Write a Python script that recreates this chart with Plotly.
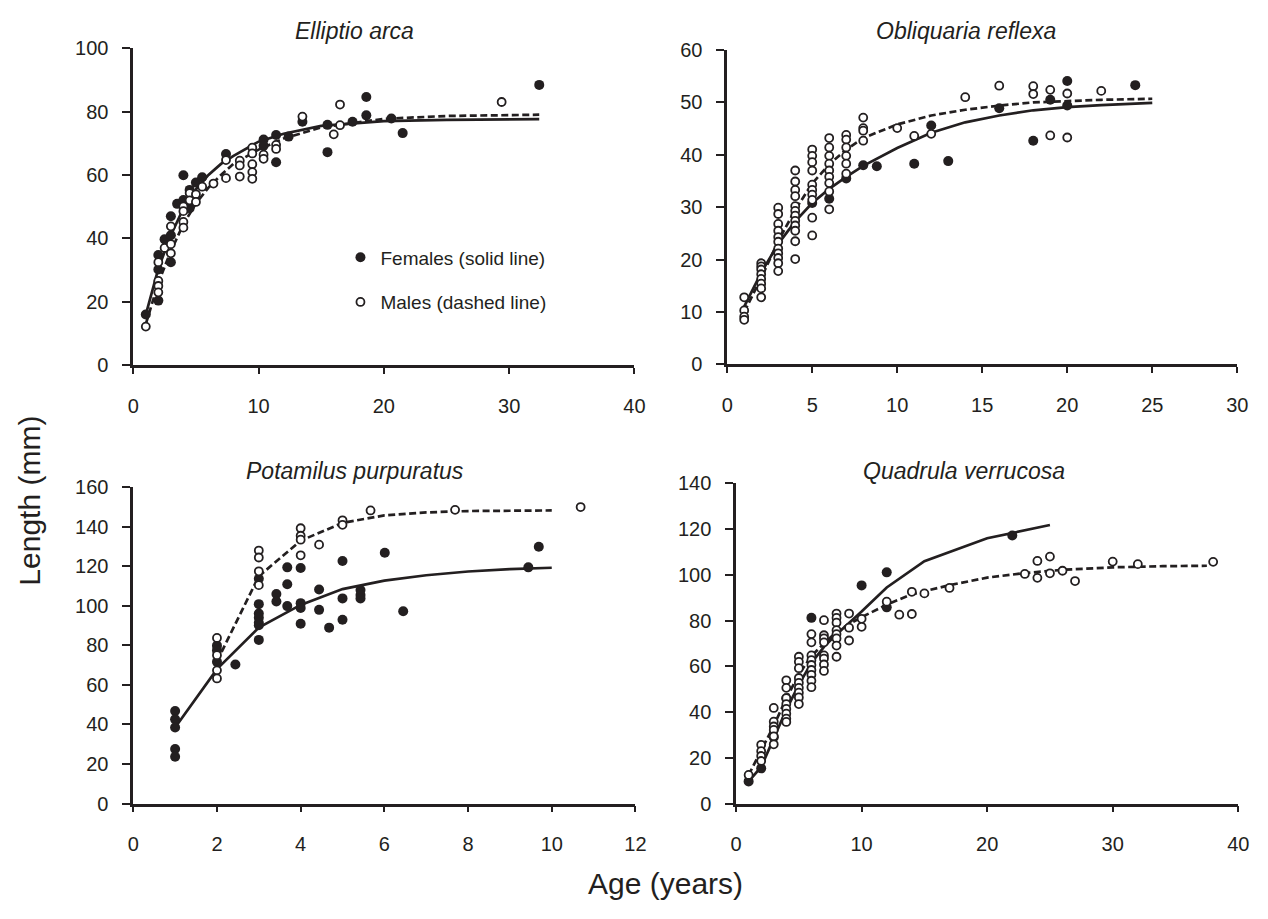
import plotly.graph_objects as go

W, H = 1268, 919
INK = "#231f20"
FONT = "Liberation Sans, Arial, Helvetica, sans-serif"

# ---------------- Elliptio arca ----------------
ea_f_age = [1, 2, 2, 2, 2.5, 3, 3, 3, 3.5, 4, 4, 4.5, 4.5, 5, 5.5, 7.4, 10.4, 10.4, 11.4, 11.4,
            12.4, 13.5, 15.5, 15.5, 17.5, 18.6, 18.6, 20.6, 21.5, 32.4]
ea_f_len = [16, 20.4, 30.2, 34.8, 39.7, 47, 32.5, 41, 50.9, 59.9, 52.1, 55.3, 49.5, 57.6, 59.3, 66.6,
            71.2, 69.2, 72.6, 64, 72.1, 76.8, 75.8, 67.2, 76.8, 84.6, 78.8, 77.8, 73.2, 88.4]
ea_m_age = [1, 2, 2, 2, 2, 2.5, 3, 3, 3, 4, 4, 4, 4, 4.5, 4.5, 5, 5, 5.5, 6.4, 7.4, 7.4, 8.5, 8.5, 8.5,
            9.5, 9.5, 9.5, 9.5, 9.5, 10.4, 10.4, 11.4, 11.4, 13.5, 16, 16.5, 16.5, 29.4]
ea_m_len = [12.2, 32.5, 26.6, 25, 23, 37, 43.8, 38.2, 35.3, 50.1, 48.6, 45.2, 43.4, 54.3, 52, 53.9, 51.5,
            56.3, 57.3, 64.7, 59, 64.5, 63, 59.5, 68.6, 66.8, 63.4, 60.9, 58.8, 66.4, 65.1, 69.5, 68.2,
            78.4, 72.8, 75.7, 82.2, 83]
ea_f_fit_age = [1, 2, 3, 4, 5, 6, 7, 8, 10, 12, 15, 20, 25, 32.4]
ea_f_fit_len = [16, 30.5, 41, 49.5, 55.5, 60, 63.5, 66, 70.5, 73, 75.5, 77, 77.4, 77.6]
ea_m_fit_age = [1, 2, 3, 4, 5, 6, 7, 8, 10, 12, 15, 20, 25, 32.4]
ea_m_fit_len = [13, 26, 36, 44.5, 51, 56, 60, 63.5, 68, 71.5, 75, 77.7, 78.6, 79]

# ---------------- Obliquaria reflexa ----------------
or_f_age = [5, 6, 7, 8, 8.8, 11, 12, 13, 16, 18, 19, 20, 20, 24]
or_f_len = [30.8, 31.6, 35.5, 38.0, 37.8, 38.3, 45.6, 38.8, 48.9, 42.7, 50.5, 54.1, 49.4, 53.3]
or_m_age = [1, 1, 1, 1,
            2, 2, 2, 2, 2, 2, 2, 2,
            3, 3, 3, 3, 3, 3, 3, 3, 3, 3, 3,
            4, 4, 4, 4, 4, 4, 4, 4, 4, 4, 4, 4,
            5, 5, 5, 5, 5, 5, 5, 5, 5, 5,
            6, 6, 6, 6, 6, 6, 6, 6, 6,
            7, 7, 7, 7, 7, 7,
            8, 8, 8, 8,
            10, 11, 12, 14, 16, 18, 18, 19, 19, 20, 20, 22]
or_m_len = [12.8, 10.3, 9.1, 8.5,
            19.3, 18.7, 18.1, 17.2, 16.3, 15.4, 14.5, 12.8,
            29.9, 28.7, 26.8, 25.5, 24.3, 23.4, 22.1, 21.2, 20.3, 19.3, 17.8,
            37.0, 34.9, 33.3, 32.1, 30.2, 29.3, 28.4, 27.4, 26.5, 25.5, 23.5, 20.1,
            41.0, 39.8, 38.6, 37.0, 34.3, 33.3, 32.4, 31.4, 28.0, 24.6,
            43.2, 41.4, 39.8, 38.3, 37.0, 35.8, 34.6, 33.0, 29.6,
            43.8, 42.9, 41.4, 39.8, 38.3, 36.4,
            47.1, 45.1, 44.6, 42.7,
            45.1, 43.6, 44.0, 51.0, 53.2, 53.1, 51.6, 52.4, 43.7, 51.7, 43.3, 52.2]
or_f_fit_age = [1, 2, 3, 4, 5, 6, 7, 8, 10, 12, 14, 16, 18, 20, 22, 25]
or_f_fit_len = [11, 17.5, 23, 27.3, 30.8, 33.5, 35.8, 37.9, 41.3, 44.2, 46.2, 47.5, 48.5, 49.1, 49.5, 49.9]
or_m_fit_age = [1, 2, 3, 4, 5, 6, 7, 8, 10, 12, 14, 16, 18, 20, 22, 25]
or_m_fit_len = [10, 16.5, 23.5, 29.5, 34.5, 38.2, 41, 43.2, 45.8, 47.5, 48.6, 49.4, 50, 50.3, 50.5, 50.7]

# ---------------- Potamilus purpuratus ----------------
pp_f_age = [1, 1, 1, 1, 1, 2, 2, 2, 2.44, 3, 3, 3, 3, 3, 3, 3, 3.42, 3.42, 3.68, 3.68, 3.68,
            4, 4, 4, 4, 4.44, 4.44, 4.68, 5, 5, 5, 5.43, 5.43, 5.43, 6.01, 6.45, 9.44, 9.69]
pp_f_len = [46.8, 42.6, 38.5, 27.6, 23.7, 79.9, 77.5, 71.7, 70.4, 113.7, 100.9, 96.2, 94, 91.5, 90.2,
            82.8, 106, 102.2, 119.5, 111, 99.9, 119.2, 101.4, 99, 91, 108.3, 98, 89, 122.7, 103.8, 93,
            108, 105.5, 103.8, 126.9, 97.3, 119.5, 129.9]
pp_m_age = [2, 2, 2, 2, 3, 3, 3, 3, 4, 4, 4, 4, 4.44, 5, 5, 5.67, 7.69, 10.69]
pp_m_len = [83.8, 75.1, 67.4, 63.3, 128, 124.5, 117.5, 110.5, 139.3, 135.5, 133.5, 125.6, 131,
            143.3, 141, 148.3, 148.6, 150]
pp_f_fit_age = [1, 2, 3, 4, 5, 6, 7, 8, 9, 10]
pp_f_fit_len = [38.5, 68, 89, 100.5, 108.5, 112.8, 115.5, 117.4, 118.6, 119.3]
pp_m_fit_age = [2, 3, 4, 5, 6, 7, 8, 9, 10]
pp_m_fit_len = [72, 115, 133, 142, 145.8, 147.3, 148, 148.2, 148.3]

# ---------------- Quadrula verrucosa ----------------
qv_f_age = [1, 2, 3, 4, 6, 10, 12, 12, 22]
qv_f_len = [9.7, 15.4, 29, 46, 81.2, 95.4, 101.1, 85.8, 117.2]
qv_m_age = [1,
            2, 2, 2, 2,
            3, 3, 3, 3, 3, 3,
            4, 4, 4, 4, 4, 4, 4, 4,
            5, 5, 5, 5, 5, 5, 5, 5, 5,
            6, 6, 6, 6, 6, 6, 6, 6, 6,
            7, 7, 7, 7, 7, 7, 7, 7,
            8, 8, 8, 8, 8, 8, 8, 8,
            9, 9, 9, 10, 10, 12, 13, 14, 14, 15, 17,
            23, 24, 24, 25, 25, 26, 27, 30, 32, 38]
qv_m_len = [12.5,
            25.7, 22.9, 20.8, 18.6,
            41.8, 35.8, 33.7, 32.2, 29.4, 25.9,
            53.9, 50.6, 46.1, 43.5, 41.4, 39.3, 37.1, 35.7,
            64.2, 62, 59.2, 54.9, 52.8, 50.6, 48.5, 46.4, 43.5,
            74.1, 70.5, 64.8, 62.7, 60.6, 58.4, 56.3, 53.7, 50.9,
            80.2, 73.6, 72.2, 70.5, 64.8, 63.4, 60.8, 58.0,
            83.1, 81.2, 79.1, 75.8, 74.1, 72.2, 69.1, 64.2,
            83.1, 76.9, 71.3, 80.8, 77.3, 88.3, 82.6, 92.6, 82.9, 91.9, 94.3,
            100.4, 106.1, 98.7, 108, 100.7, 101.8, 97.3, 105.8, 104.7, 105.7]
qv_f_fit_age = [1, 2, 3, 4, 5, 6, 7, 8, 9, 10, 12, 15, 20, 25]
qv_f_fit_len = [9.7, 16, 28.5, 41, 52, 61.5, 68.5, 74, 79, 84, 94.5, 106, 116, 121.8]
qv_m_fit_age = [1, 2, 3, 4, 5, 6, 7, 8, 9, 10, 12, 14, 17, 20, 23, 26, 30, 34, 37.5]
qv_m_fit_len = [12.5, 23, 34, 46, 56.5, 64.5, 70, 75, 78.5, 81.5, 87, 91.5, 95.5, 98.8, 100.8, 102.2,
                103.3, 103.8, 104]

species = ["Elliptio arca", "Obliquaria reflexa", "Potamilus purpuratus", "Quadrula verrucosa"]
legend_names = ["Females (solid line)", "Males (dashed line)"]
x_ranges = [[0, 40], [0, 30], [0, 12], [0, 40]]
x_dticks = [10, 5, 2, 10]
y_ranges = [[0, 100], [0, 60], [0, 160], [0, 140]]
y_dticks = [20, 10, 20, 20]

# layout geometry in pixels (left, right, bottom, top)
boxes = [(129, 637, 363, 38), (731, 1248, 362, 40), (129, 638, 812, 488), (740, 1249, 812, 484)]
title_pos = [(353, 20), (973, 20), (354, 471), (971, 471)]

data = [
    (ea_f_age, ea_f_len, ea_m_age, ea_m_len, ea_f_fit_age, ea_f_fit_len, ea_m_fit_age, ea_m_fit_len),
    (or_f_age, or_f_len, or_m_age, or_m_len, or_f_fit_age, or_f_fit_len, or_m_fit_age, or_m_fit_len),
    (pp_f_age, pp_f_len, pp_m_age, pp_m_len, pp_f_fit_age, pp_f_fit_len, pp_m_fit_age, pp_m_fit_len),
    (qv_f_age, qv_f_len, qv_m_age, qv_m_len, qv_f_fit_age, qv_f_fit_len, qv_m_fit_age, qv_m_fit_len),
]

fig = go.Figure()
layout = {}
annotations = []

for i, (fa, fl, ma, ml, ffa, ffl, mfa, mfl) in enumerate(data):
    n = i + 1
    xa = "x" if n == 1 else f"x{n}"
    ya = "y" if n == 1 else f"y{n}"
    fig.add_trace(go.Scatter(x=ffa, y=ffl, xaxis=xa, yaxis=ya, mode="lines",
                             line=dict(color=INK, width=2.7), showlegend=False, hoverinfo="skip"))
    fig.add_trace(go.Scatter(x=mfa, y=mfl, xaxis=xa, yaxis=ya, mode="lines",
                             line=dict(color=INK, width=2.7, dash="7px,3.5px"), showlegend=False,
                             hoverinfo="skip"))
    fig.add_trace(go.Scatter(x=fa, y=fl, xaxis=xa, yaxis=ya, mode="markers",
                             marker=dict(symbol="circle", size=10, color=INK, line=dict(width=0)),
                             name=legend_names[0], legendgroup="f", showlegend=(i == 0)))
    fig.add_trace(go.Scatter(x=ma, y=ml, xaxis=xa, yaxis=ya, mode="markers",
                             marker=dict(symbol="circle", size=8, color="white",
                                         line=dict(width=1.8, color=INK)),
                             name=legend_names[1], legendgroup="m", showlegend=(i == 0)))

    l, r, b, t = boxes[i]
    common = dict(showline=True, linecolor=INK, linewidth=2.6, ticks="outside", tickcolor=INK,
                  tickwidth=2, showgrid=False, zeroline=False, fixedrange=True,
                  tickfont=dict(family=FONT, size=20, color=INK))
    layout["xaxis" if n == 1 else f"xaxis{n}"] = dict(
        common, domain=[l / W, r / W], range=x_ranges[i], dtick=x_dticks[i], tick0=0,
        anchor=ya, ticklen=6, ticklabelstandoff=15)
    layout["yaxis" if n == 1 else f"yaxis{n}"] = dict(
        common, domain=[1 - b / H, 1 - t / H], range=y_ranges[i], dtick=y_dticks[i], tick0=0,
        anchor=xa, ticklen=8, ticklabelstandoff=10)
    tx, ty = title_pos[i]
    annotations.append(dict(text=f"<i>{species[i]}</i>", x=tx / W, y=1 - ty / H, xref="paper",
                            yref="paper", showarrow=False, xanchor="center", yanchor="middle",
                            font=dict(family=FONT, size=23, color=INK)))

annotations.append(dict(text="Length (mm)", x=24 / W, y=1 - 502 / H, xref="paper", yref="paper",
                        showarrow=False, textangle=-90, xanchor="center", yanchor="middle",
                        font=dict(family=FONT, size=30, color=INK)))
annotations.append(dict(text="Age (years)", x=668 / W, y=1 - 894 / H, xref="paper", yref="paper",
                        showarrow=False, xanchor="center", yanchor="middle",
                        font=dict(family=FONT, size=30, color=INK)))

fig.update_layout(
    width=W, height=H,
    margin=dict(l=0, r=0, t=0, b=0),
    paper_bgcolor="white", plot_bgcolor="white",
    font=dict(family=FONT, color=INK),
    annotations=annotations,
    legend=dict(x=339 / W, y=1 - 233 / H, xanchor="left", yanchor="top",
                bgcolor="rgba(0,0,0,0)", font=dict(family=FONT, size=19, color=INK),
                traceorder="grouped", tracegroupgap=17, itemwidth=30),
    **layout,
)

fig.write_html("out.html", config={"displayModeBar": False, "staticPlot": False},
               post_script="document.body.style.margin='0px';")
